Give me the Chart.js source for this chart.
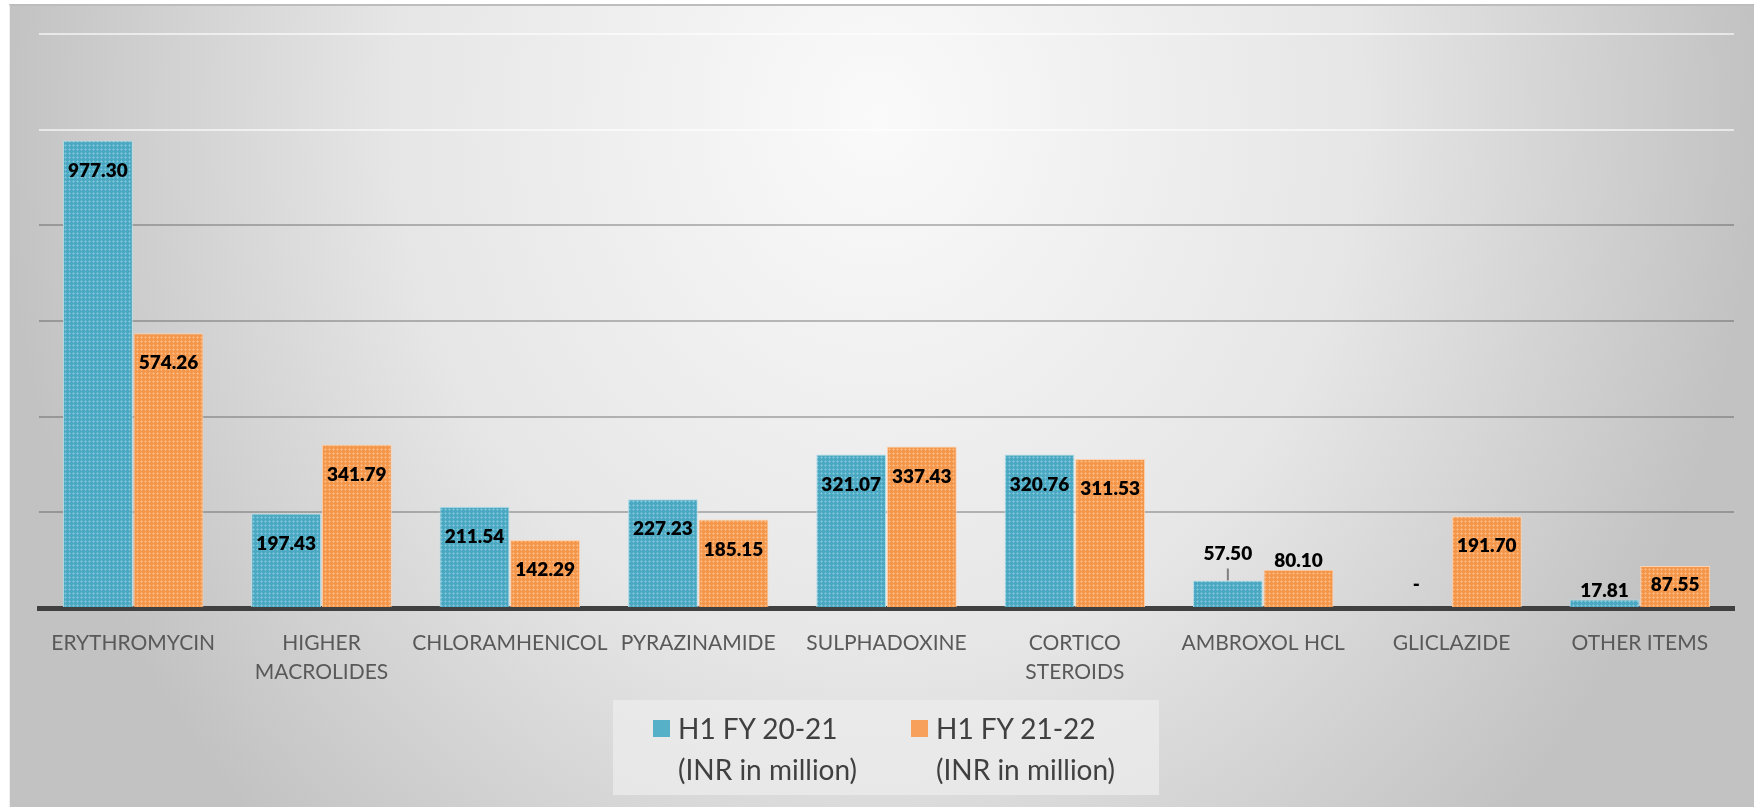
<!DOCTYPE html>
<html>
<head>
<meta charset="utf-8">
<script src="https://cdn.jsdelivr.net/npm/chart.js@4.4.0/dist/chart.umd.min.js"></script>
<style>
  html, body { margin: 0; padding: 0; background: #fff; }
  body { width: 1754px; height: 807px; position: relative; overflow: hidden; font-family: Lato, sans-serif; }
  #panel {
    position: absolute; left: 9px; top: 4px; right: 0; bottom: 0;
    border-top: 2px solid #bdbdbd; border-left: 1px solid #efefef;
    background: radial-gradient(ellipse 880px 1000px at 868px 110px, #fafafa 0%, #e6e6e6 55%, #c2c2c2 100%);
  }
  #chartBox { position: absolute; left: 0; top: 0; width: 1754px; height: 807px; }
  #chart-legend {
    position: absolute; left: 613px; top: 700px; width: 546px; height: 95px;
    background: rgba(236,236,236,0.75);
  }
  .key-item { position: absolute; top: 18px; }
  .key-item span { position: absolute; left: 0; top: 2px; width: 17px; height: 17px; }
  .key-item p { margin: 0; position: absolute; left: 25px; top: -10px; white-space: nowrap;
    font: 28px/41px Lato, sans-serif; color: #404040; }
</style>
</head>
<body>
<div id="panel"></div>
<div id="chartBox"><canvas id="salesChart" width="1754" height="807"></canvas></div>
<div id="chart-legend"></div>
<script>
// values (INR in million)
const categories = ['ERYTHROMYCIN', ['HIGHER', 'MACROLIDES'], 'CHLORAMHENICOL', 'PYRAZINAMIDE',
    'SULPHADOXINE', ['CORTICO', 'STEROIDS'], 'AMBROXOL HCL', 'GLICLAZIDE', 'OTHER ITEMS'];
const h1fy2021 = [977.30, 197.43, 211.54, 227.23, 321.07, 320.76, 57.50, 0, 17.81];
const h1fy2122 = [574.26, 341.79, 142.29, 185.15, 337.43, 311.53, 80.10, 191.70, 87.55];
const seriesNames = [['H1 FY 20-21', '(INR in million)'], ['H1 FY 21-22', '(INR in million)']];
const yMax = 1200;
const yStep = 200;

// to change colour of the bars only change these
const fillColor = ['#4aa8c2', '#f5974a'];
const dotColor = ['#86c9db', '#fbbd88'];
const edgeColor = ['#b9e0ea', '#fcd3b2'];
const keyColor = ['#55b0c8', '#f6a05c'];

// the 57.50 label was dragged up in the original and got a leader line
const callout = { dataset: 0, index: 6, lift: 18 };

function makePattern(base, dot) {
    const c = document.createElement('canvas');
    c.width = 4; c.height = 4;
    const g = c.getContext('2d');
    g.fillStyle = base; g.fillRect(0, 0, 4, 4);
    g.fillStyle = dot;
    g.globalAlpha = 0.55;
    g.fillRect(1, 0, 1, 3); g.fillRect(0, 1, 3, 1);
    g.globalAlpha = 1;
    g.fillRect(1, 1, 1, 1);
    return g.createPattern(c, 'repeat');
}

const barLabels = {
    id: 'barLabels',
    afterDraw(chart) {
        const ctx = chart.ctx;
        const base = chart.scales.y.getPixelForValue(0);
        ctx.save();
        ctx.font = '800 19px Lato';
        ctx.fillStyle = '#000';
        ctx.textAlign = 'center';
        ctx.textBaseline = 'middle';
        chart.data.datasets.forEach(function (ds, di) {
            chart.getDatasetMeta(di).data.forEach(function (bar, i) {
                const v = ds.data[i];
                const h = base - bar.y;
                let y;
                if (!v) y = base - 23;
                else if (h >= 40) y = bar.y + Math.min(30, h * 0.45);
                else y = bar.y - 9;
                if (di == callout.dataset && i == callout.index) {
                    y -= callout.lift;
                    ctx.strokeStyle = '#7f7f7f';
                    ctx.lineWidth = 2;
                    ctx.beginPath();
                    ctx.moveTo(bar.x, y + 15);
                    ctx.lineTo(bar.x, bar.y);
                    ctx.stroke();
                }
                ctx.fillText(v ? v.toFixed(2) : '-', bar.x, y);
            });
        });
        ctx.restore();
    }
};

function gridColor(c) {
    const v = c.tick.value;
    if (v == 0) return 'rgba(0,0,0,0)';
    if (v >= 1000) return 'rgba(255,255,255,0.6)';
    return 'rgba(60,60,60,0.33)';
}

var ctx = document.getElementById('salesChart').getContext('2d');
var myChart = new Chart(ctx, {
    type: 'bar',
    data: {
        labels: categories,
        datasets: [h1fy2021, h1fy2122].map(function (vals, i) {
            return {
                label: seriesNames[i].join(' '),
                data: vals,
                backgroundColor: makePattern(fillColor[i], dotColor[i]),
                borderColor: edgeColor[i],
                borderWidth: 1,
                categoryPercentage: 0.75,
                barPercentage: 0.99
            };
        })
    },
    options: {
        responsive: false,
        animation: false,
        layout: { padding: { left: 0, right: 20, top: 34, bottom: 0 } },
        plugins: { legend: { display: false }, tooltip: { enabled: false } },
        scales: {
            x: {
                z: 1,
                grid: { display: false, drawTicks: false },
                border: { display: true, color: '#404040', width: 5 },
                ticks: {
                    color: '#595959',
                    padding: 21,
                    maxRotation: 0,
                    autoSkip: false,
                    font: { family: 'Lato', size: 21, lineHeight: 1.36 }
                },
                afterFit: function (scale) { scale.height = 807 - 608; }
            },
            y: {
                z: 1,
                min: 0,
                max: yMax,
                ticks: { display: false, stepSize: yStep },
                border: { display: false },
                grid: { color: gridColor, lineWidth: 2, drawTicks: false },
                afterFit: function (scale) { scale.width = 39; }
            }
        }
    },
    plugins: [barLabels]
});

function buildLegend() {
    const legendChart = document.getElementById('chart-legend');
    seriesNames.forEach(function (name, i) {
        const item = document.createElement('div');
        item.setAttribute('class', 'key-item');
        item.style.left = (i == 0 ? 40 : 298) + 'px';
        const swatch = document.createElement('span');
        swatch.style.backgroundColor = keyColor[i];
        item.appendChild(swatch);
        const text = document.createElement('p');
        text.innerHTML = name.join('<br>');
        item.appendChild(text);
        legendChart.appendChild(item);
    });
}
buildLegend();
</script>
</body>
</html>
